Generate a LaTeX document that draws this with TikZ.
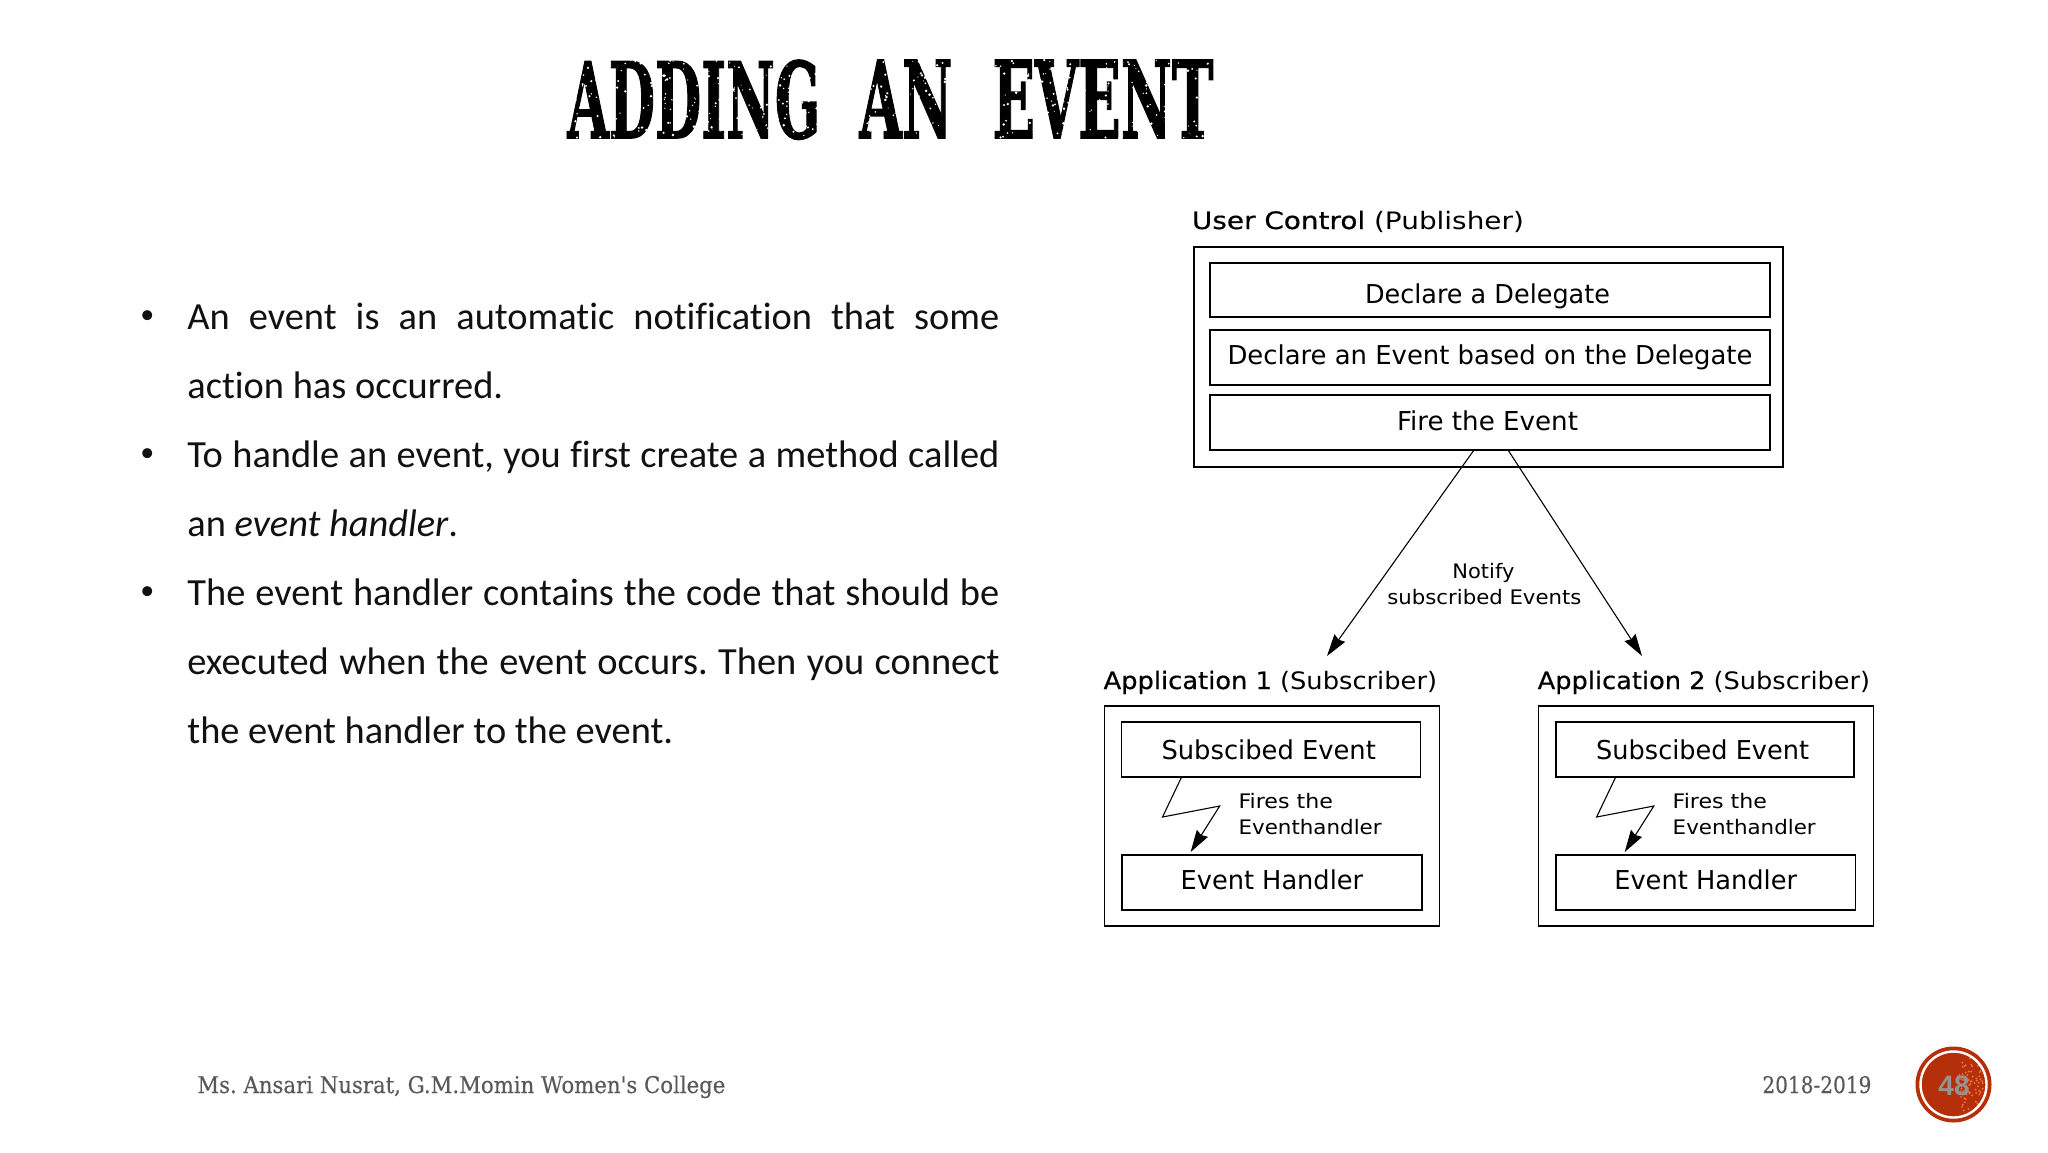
\documentclass[tikz,border=0pt]{standalone}
\usepackage{fontspec}
\usepackage{graphicx}
\usetikzlibrary{arrows.meta}
\setmainfont[Ligatures=NoCommon]{Carlito}
\newfontfamily\diagfont{DejaVu Sans}
\newfontfamily\diagbold[FakeBold=0.5]{DejaVu Sans}
\newfontfamily\titlefont[FakeBold=1.6]{DejaVu Serif}
\newfontfamily\footfont[FakeBold=0.25]{DejaVu Serif}
\newfontfamily\badgefont{Liberation Sans}
\newcommand{\fitw}[2]{\resizebox{#1pt}{\height}{#2}}
\newcommand{\titleword}[2]{\resizebox{#1pt}{39pt}{#2}}
\definecolor{footgray}{HTML}{595959}
\definecolor{badgered}{HTML}{B5300A}
\definecolor{speck}{HTML}{E8703A}
\definecolor{bodyink}{HTML}{111111}
\definecolor{badgeink}{HTML}{949494}
\tikzset{
  outerbox/.style 2 args={draw=black,line width=0.7pt,inner sep=0pt,minimum width=#1*0.5pt,minimum height=#2*0.5pt},
  innerbox/.style n args={3}{draw=black,line width=0.7pt,inner sep=0pt,minimum width=#1*0.5pt,minimum height=#2*0.5pt,
     text height=#3*1pt,text depth=0pt,align=center,font=\diagfont\fontsize{13}{15}\selectfont},
  smalltext/.style={anchor=base west,inner sep=0pt,font=\diagfont\fontsize{10}{12}\selectfont},
  headtext/.style={anchor=base west,inner sep=0pt,font=\diagfont\fontsize{12}{14}\selectfont},
  flash/.style={draw=black,line width=0.55pt,-{Stealth[length=11pt,width=6.5pt,inset=1pt]}},
  bodypara/.style={anchor=base west,inner sep=0pt,text width=406pt,align=justify,text=bodyink,
     font=\fontsize{19.2}{34.5}\selectfont},
  bulletmark/.style={anchor=base west,inner sep=0pt,text=bodyink,font=\fontsize{14}{16}\selectfont},
  foot/.style={anchor=base west,inner sep=0pt,text=footgray,font=\footfont\fontsize{11.5}{14}\selectfont},
}
\frenchspacing
\begin{document}
\begin{tikzpicture}[x=0.5pt,y=-0.5pt]
\useasboundingbox (0,0) rectangle (2048,1152);
\fill[white] (0,0) rectangle (2048,1152);

% title
\node[anchor=base west,inner sep=0pt,font=\titlefont\bfseries] (title) at (567,138)
  {\titleword{126.5}{ADDING}\hspace{19.5pt}\titleword{46.5}{AN}\hspace{20pt}\titleword{110.5}{EVENT}};
\pgfmathsetseed{11}
\foreach \i in {1,...,650}{
  \pgfmathsetmacro\xx{567+646*rnd}
  \pgfmathsetmacro\yy{60+78*rnd}
  \pgfmathsetmacro\rr{0.5+0.9*rnd}
  \fill[white] (\xx,\yy) circle (\rr);
}

% body text
\node[bulletmark] (b1) at (140,323.5) {•};
\node[bodypara] (p1) at (187,329) {An event is an automatic notification that some\linebreak action has occurred.};
\node[bulletmark] (b2) at (140,461.5) {•};
\node[bodypara] (p2) at (187,467) {To handle an event, you first create a method called\linebreak an \textit{event handler}.};
\node[bulletmark] (b3) at (140,599.5) {•};
\node[bodypara] (p3) at (187,605) {The event handler contains the code that should be\linebreak executed when the event occurs. Then you connect\linebreak the event handler to the event.};

% publisher
\node[headtext] (pubhead) at (1191.5,229) {\fitw{166}{{\diagbold User Control} (Publisher)}};
\node[outerbox={589}{220}] (pub) at (1488.5,357) {};
\node[innerbox={560}{54}{13}] (decl) at (1490,290) {\hspace*{-2.5pt}\fitw{122.5}{Declare a Delegate}};
\node[innerbox={560}{55}{6.5}] (evt) at (1490,357.5) {\fitw{262.5}{Declare an Event based on the Delegate}};
\node[innerbox={560}{55}{7.5}] (fire) at (1490,422.5) {\hspace*{-2.5pt}\fitw{90.5}{Fire the Event}};

% notify
\coordinate (fireL) at (1474,450);
\coordinate (fireR) at (1508,450);
\coordinate (tipL) at (1327,656);
\coordinate (tipR) at (1642,656);
\draw[flash] (fireL) -- (tipL);
\draw[flash] (fireR) -- (tipR);
\node[smalltext] (notify) at (1452,578) {\fitw{31}{Notify}};
\node[smalltext] (subev) at (1387,604) {\fitw{97}{subscribed Events}};

% application 1
\node[headtext] (app1head) at (1103.2,689) {\fitw{166.75}{{\diagbold Application 1} (Subscriber)}};
\node[outerbox={335}{220}] (app1) at (1271.85,816) {};
\node[innerbox={298.5}{55}{9.5}] (sub1) at (1271,749.5) {\hspace*{-2.3pt}\fitw{107.2}{Subscibed Event}};
\node[innerbox={300.2}{55}{6.5}] (hand1) at (1271.9,882.5) {\fitw{91.3}{Event Handler}};
\coordinate (a1) at (1181.6,777);
\coordinate (a2) at (1162.5,817);
\coordinate (a3) at (1219.7,806);
\coordinate (a4) at (1190.6,852);
\draw[flash] (a1) -- (a2) -- (a3) -- (a4);
\node[smalltext] (fires1) at (1238.2,808) {\fitw{47.15}{Fires the}};
\node[smalltext] (eh1) at (1238.2,834) {\fitw{71.5}{Eventhandler}};

% application 2
\node[headtext] (app2head) at (1537.3,689) {\fitw{166.25}{{\diagbold Application 2} (Subscriber)}};
\node[outerbox={335}{220}] (app2) at (1706,816) {};
\node[innerbox={298}{55}{9.5}] (sub2) at (1704.9,749.5) {\hspace*{-2.3pt}\fitw{106.4}{Subscibed Event}};
\node[innerbox={299.6}{55}{6.5}] (hand2) at (1705.7,882.5) {\fitw{91.4}{Event Handler}};
\coordinate (c1) at (1615.7,777);
\coordinate (c2) at (1596.6,817);
\coordinate (c3) at (1653.8,806);
\coordinate (c4) at (1624.7,852);
\draw[flash] (c1) -- (c2) -- (c3) -- (c4);
\node[smalltext] (fires2) at (1672.3,808) {\fitw{47.15}{Fires the}};
\node[smalltext] (eh2) at (1672.3,834) {\fitw{71.5}{Eventhandler}};

% footer
\node[foot] (footl) at (197,1093) {\fitw{264}{Ms. Ansari Nusrat, G.M.Momin Women's College}};
\node[foot] (footr) at (1762,1093) {\fitw{54.5}{2018-2019}};

% badge
\fill[badgered] (1953.5,1084.5) circle (38);
\pgfmathsetseed{5}
\foreach \i in {1,...,70}{
  \pgfmathsetmacro\aa{-70+140*rnd}
  \pgfmathsetmacro\dd{8+23*rnd}
  \fill[speck] (1953.5,1084.5) ++(\aa:\dd) circle (1.1);
}
\draw[white,line width=1.2pt] (1953.5,1084.5) circle (33);
\node[anchor=base,inner sep=0pt,text=badgeink,font=\badgefont\bfseries\fontsize{14}{16}\selectfont] (page) at (1954,1095) {48};
\end{tikzpicture}
\end{document}
